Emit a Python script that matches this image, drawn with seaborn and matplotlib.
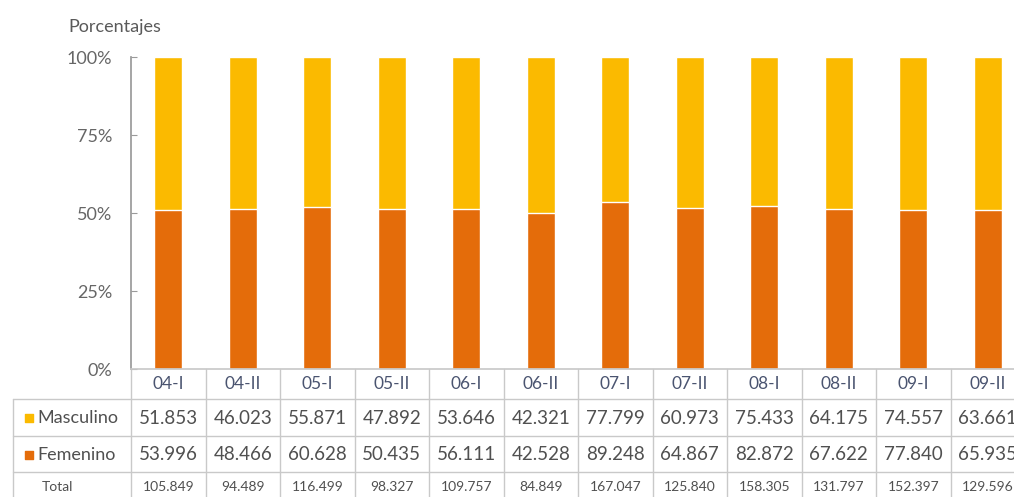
import matplotlib
matplotlib.use("Agg")
import matplotlib.pyplot as plt
import matplotlib.transforms as mtransforms
import seaborn as sns
import numpy as np

periodos = ["04-I", "04-II", "05-I", "05-II", "06-I", "06-II",
            "07-I", "07-II", "08-I", "08-II", "09-I", "09-II"]
masculino = [51.853, 46.023, 55.871, 47.892, 53.646, 42.321,
             77.799, 60.973, 75.433, 64.175, 74.557, 63.661]
femenino = [53.996, 48.466, 60.628, 50.435, 56.111, 42.528,
            89.248, 64.867, 82.872, 67.622, 77.840, 65.935]
total_lbl = ["105.849", "94.489", "116.499", "98.327", "109.757", "84.849",
             "167.047", "125.840", "158.305", "131.797", "152.397", "129.596"]
masc_lbl = ["51.853", "46.023", "55.871", "47.892", "53.646", "42.321",
            "77.799", "60.973", "75.433", "64.175", "74.557", "63.661"]
fem_lbl = ["53.996", "48.466", "60.628", "50.435", "56.111", "42.528",
           "89.248", "64.867", "82.872", "67.622", "77.840", "65.935"]
yticks = [0, 25, 50, 75, 100]
ytick_lbl = ["0%", "25%", "50%", "75%", "100%"]

YELLOW = "#FBBA00"
ORANGE = "#E46C0A"
GRID = "#C9C9C9"
TXT = "#505050"

sns.set_theme(style="white")
plt.rcParams["font.family"] = ["Lato", "DejaVu Sans"]

masc = np.array(masculino)
fem = np.array(femenino)
tot = masc + fem
fem_pct = fem / tot * 100
all_pct = (fem + masc) / tot * 100

W, H = 1014, 497
fig = plt.figure(figsize=(W / 100, H / 100), dpi=100)

# pixel-coordinate overlay for table
tab = fig.add_axes([0, 0, 1, 1], zorder=0)
tab.set_xlim(0, W)
tab.set_ylim(H, 0)
tab.axis("off")

x0, y0, y100 = 131, 369, 57
colw = 74.5
ax = fig.add_axes([x0 / W, (H - y0) / H, colw * 12 / W, (y0 - y100) / H], zorder=1)
ax.patch.set_alpha(0)

sns.barplot(x=periodos, y=all_pct, color=YELLOW, saturation=1, width=0.38, ax=ax)
sns.barplot(x=periodos, y=fem_pct, color=ORANGE, saturation=1, width=0.38, ax=ax)
ax.set_xlim(-0.5, 11.5)
ax.set_ylim(0, 100)
ax.set_yticks(yticks)
ax.set_yticklabels(ytick_lbl)
ax.set_xticks([])
ax.set_xlabel("")
ax.set_ylabel("")
for s in ["top", "right"]:
    ax.spines[s].set_visible(False)
ax.spines["left"].set_color("#9A9A9A")
ax.spines["bottom"].set_color(GRID)
ax.tick_params(axis="y", direction="in", length=4, width=0.8, color="#9A9A9A",
               labelsize=13, labelcolor="#666666", pad=13.5, left=True)

fig.text(68 / W, 1 - 27 / H, "Porcentajes", fontsize=13, color="#5A5A5A",
         ha="left", va="center")

# blended transform: x in bar data units, y in pixels
bt = mtransforms.blended_transform_factory(ax.transData, tab.transData)

row_lines = [399, 436, 472]
# vertical column lines
for k in range(13):
    tab.plot([k - 0.5, k - 0.5], [y0, H], color=GRID, lw=1, transform=bt, clip_on=False)
# horizontal row lines
for yl in row_lines:
    tab.plot([13, W], [yl, yl], color=GRID, lw=1, clip_on=False)
tab.plot([13, 13], [row_lines[0], H], color=GRID, lw=1, clip_on=False)

for i in range(12):
    tab.text(i, 384, periodos[i], transform=bt, ha="center", va="center",
             fontsize=12.5, color="#4A5470")
    tab.text(i, 418, masc_lbl[i], transform=bt, ha="center", va="center",
             fontsize=13.5, color=TXT)
    tab.text(i, 455, fem_lbl[i], transform=bt, ha="center", va="center",
             fontsize=13.5, color=TXT)
    tab.text(i, 487, total_lbl[i], transform=bt, ha="center", va="center",
             fontsize=10, color=TXT)

# row labels with colour squares
tab.scatter([29], [418], marker="s", s=40, color=YELLOW, clip_on=False)
tab.scatter([29], [455], marker="s", s=40, color=ORANGE, clip_on=False)
tab.text(37, 418, "Masculino", ha="left", va="center", fontsize=13, color=TXT)
tab.text(37, 455, "Femenino", ha="left", va="center", fontsize=13, color=TXT)
tab.text(57, 487, "Total", ha="center", va="center", fontsize=10, color=TXT)

fig.savefig("out.png", dpi=100)
